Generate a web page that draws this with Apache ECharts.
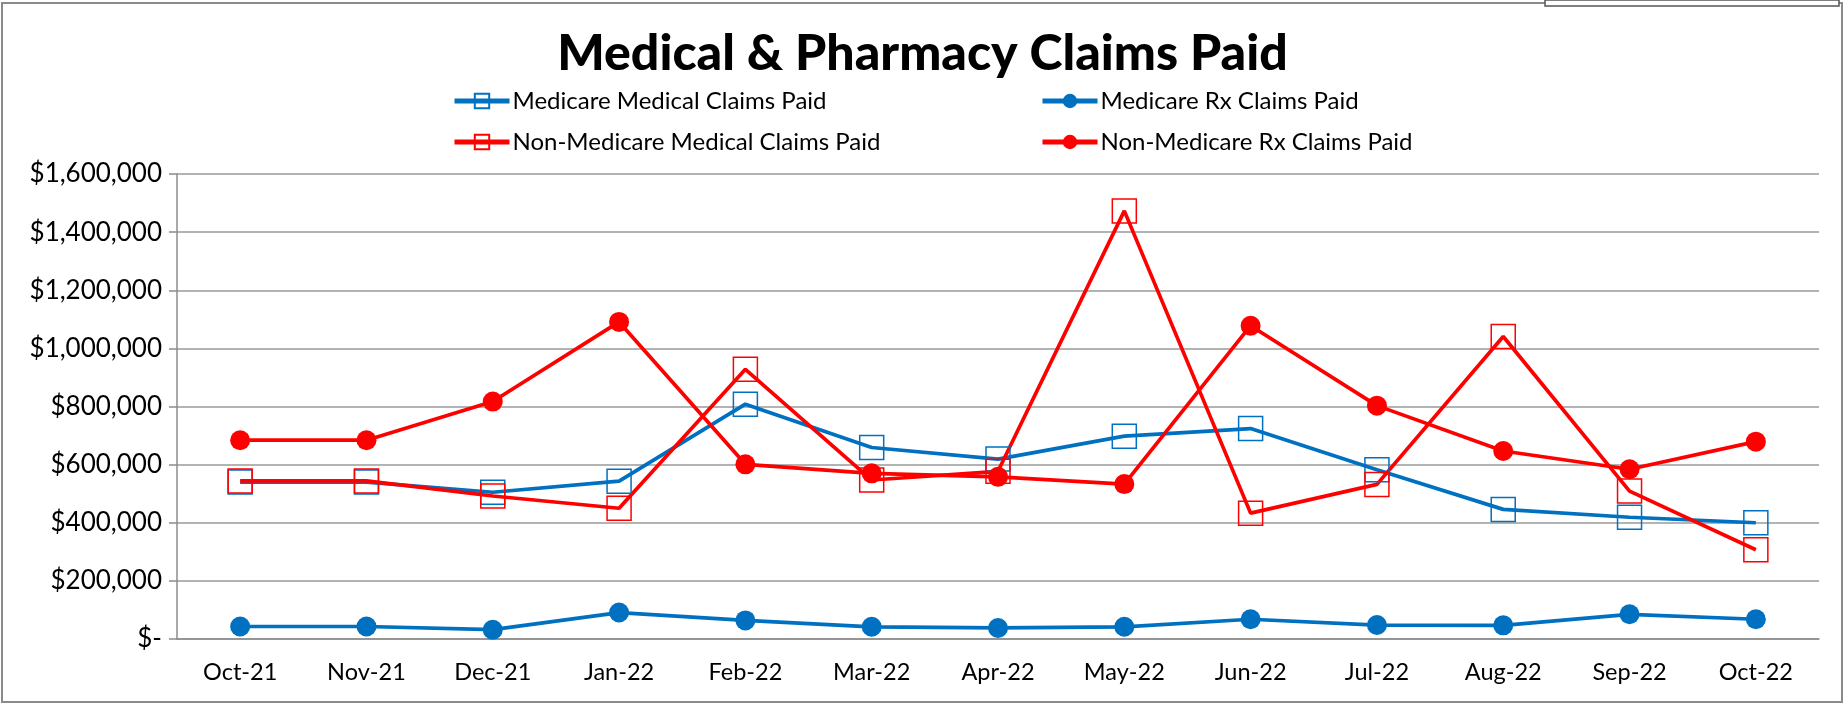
<html lang="en">

<head>
  <meta charset="utf-8">
  <title>Medical & Pharmacy Claims Paid</title>
  <style>
    html, body { margin: 0; padding: 0; background: #fff; }
    #chart { width: 1845px; height: 704px; }
  </style>
</head>

<body>
  <div id="chart"></div>
</body>

<script src="https://cdn.jsdelivr.net/npm/echarts@6/dist/echarts.min.js"></script>

<script>

  var months = ['Oct-21', 'Nov-21', 'Dec-21', 'Jan-22', 'Feb-22', 'Mar-22', 'Apr-22',
    'May-22', 'Jun-22', 'Jul-22', 'Aug-22', 'Sep-22', 'Oct-22'];

  var medicareMedical = [540000, 540000, 505000, 543000, 808000, 659000, 619000,
    698000, 724000, 582000, 446000, 419000, 400000];
  var medicareRx = [43000, 43000, 32000, 91000, 64000, 42000, 38000,
    42000, 68000, 48000, 47000, 85000, 68000];
  var nonMedicareMedical = [544000, 544000, 492000, 450000, 928000, 547000, 577000,
    1473000, 433000, 532000, 1041000, 509000, 307000];
  var nonMedicareRx = [684000, 684000, 817000, 1091000, 601000, 570000, 558000,
    533000, 1078000, 803000, 647000, 584000, 679000];

  var blue = '#0070C0';
  var red = '#FF0000';
  var font = 'Lato, "Open Sans", sans-serif';

  var plot = echarts.init(document.getElementById('chart'));

  function squareSeries(name, data, color) {
    return {
      name: name,
      type: 'line',
      data: data,
      symbol: 'rect',
      symbolSize: 24,
      itemStyle: { color: 'rgba(255,255,255,0)', borderColor: color, borderWidth: 1.5 },
      lineStyle: { color: color, width: 3.7 },
      z: 2
    };
  }

  function dotSeries(name, data, color) {
    return {
      name: name,
      type: 'line',
      data: data,
      symbol: 'circle',
      symbolSize: 20,
      itemStyle: { color: color },
      lineStyle: { color: color, width: 3.7 },
      z: 3
    };
  }

  function legendAt(left, top, name) {
    return {
      left: left,
      top: top,
      itemWidth: 55,
      itemHeight: 18,
      itemGap: 0,
      lineStyle: { width: 5 },
      textStyle: { fontFamily: font, fontSize: 24, lineHeight: 24, color: '#000', padding: [0, 0, 0, -2] },
      data: [name]
    };
  }

  option = {
    animation: false,
    backgroundColor: '#fff',
    title: {
      text: 'Medical & Pharmacy Claims Paid',
      left: 'center',
      top: 24,
      textStyle: { fontFamily: font, fontWeight: 900, fontSize: 50, color: '#000' }
    },
    legend: [
      legendAt(447, 84, 'Medicare Medical Claims Paid'),
      legendAt(447, 125, 'Non-Medicare Medical Claims Paid'),
      legendAt(1035, 84, 'Medicare Rx Claims Paid'),
      legendAt(1035, 125, 'Non-Medicare Rx Claims Paid')
    ],
    grid: { left: 177, right: 26, top: 174, bottom: 65 },
    xAxis: {
      type: 'category',
      data: months,
      boundaryGap: true,
      axisLine: { lineStyle: { color: '#8c8c8c', width: 1.5 } },
      axisTick: { length: 8, lineStyle: { color: '#8c8c8c', width: 1.5 } },
      axisLabel: { fontFamily: font, fontSize: 23.5, color: '#000', margin: 21 }
    },
    yAxis: {
      type: 'value',
      min: 0,
      max: 1600000,
      interval: 200000,
      axisLine: { show: true, lineStyle: { color: '#8c8c8c', width: 1.5 } },
      axisTick: { show: true, length: 8, lineStyle: { color: '#8c8c8c', width: 1.5 } },
      splitLine: { lineStyle: { color: '#9a9a9a', width: 1.5 } },
      axisLabel: {
        fontFamily: font, fontSize: 26, color: '#000', margin: 15,
        formatter: function (v) {
          return v === 0 ? '$-' : '$' + v.toLocaleString('en-US');
        }
      }
    },
    series: [
      squareSeries('Medicare Medical Claims Paid', medicareMedical, blue),
      dotSeries('Medicare Rx Claims Paid', medicareRx, blue),
      squareSeries('Non-Medicare Medical Claims Paid', nonMedicareMedical, red),
      dotSeries('Non-Medicare Rx Claims Paid', nonMedicareRx, red)
    ],
    graphic: [{
      type: 'rect',
      shape: { x: 2, y: 3, width: 1840, height: 699 },
      style: { fill: 'none', stroke: '#8a8a8a', lineWidth: 2 },
      silent: true
    }, {
      type: 'rect',
      shape: { x: 1545, y: 0, width: 294, height: 6 },
      style: { fill: '#fff', stroke: '#555', lineWidth: 1.5 },
      silent: true
    }]
  };
  plot.setOption(option = option)

</script>

</html>
